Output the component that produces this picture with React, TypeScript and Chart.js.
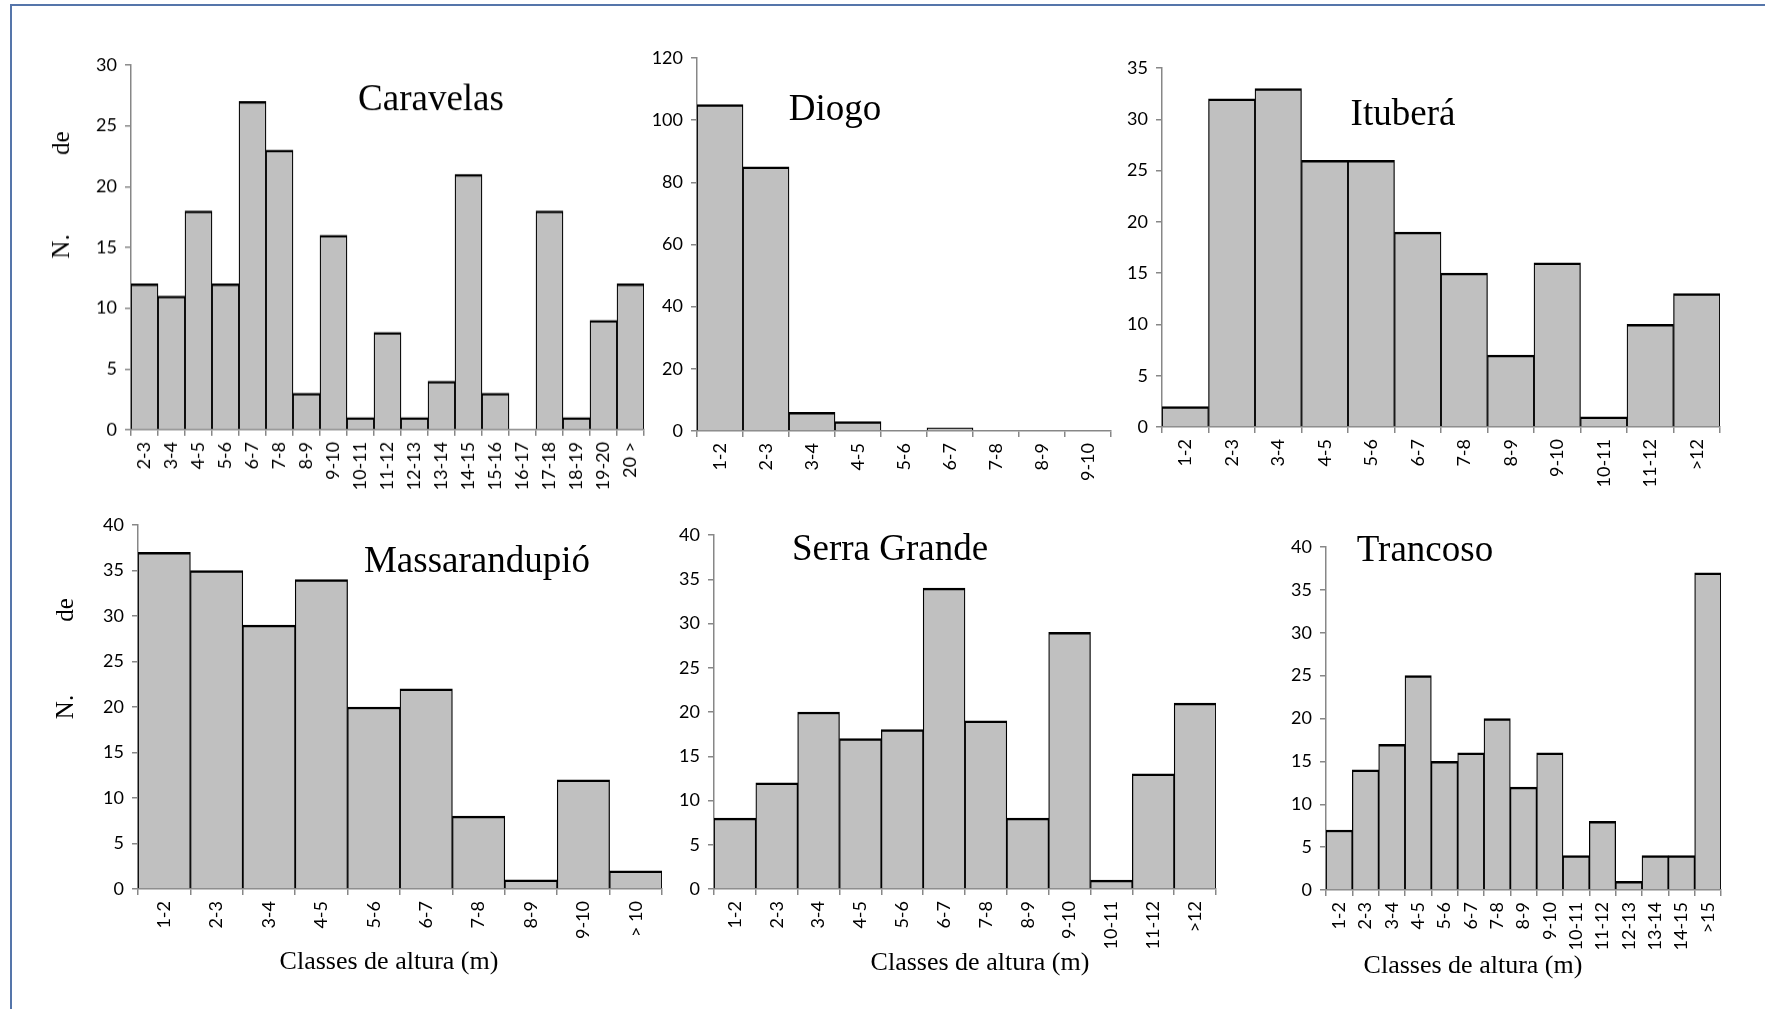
import React, { useEffect, useRef } from 'react';
import { Chart, registerables } from 'chart.js';

Chart.register(...registerables);

// ---------- data ----------
const caravelasCategories = ['2-3', '3-4', '4-5', '5-6', '6-7', '7-8', '8-9', '9-10', '10-11', '11-12', '12-13', '13-14', '14-15', '15-16', '16-17', '17-18', '18-19', '19-20', '20 >'];
const caravelasValues = [12, 11, 18, 12, 27, 23, 3, 16, 1, 8, 1, 4, 21, 3, 0, 18, 1, 9, 12];

const diogoCategories = ['1-2', '2-3', '3-4', '4-5', '5-6', '6-7', '7-8', '8-9', '9-10'];
const diogoValues = [105, 85, 6, 3, 0, 1, 0, 0, 0];

const ituberaCategories = ['1-2', '2-3', '3-4', '4-5', '5-6', '6-7', '7-8', '8-9', '9-10', '10-11', '11-12', '>12'];
const ituberaValues = [2, 32, 33, 26, 26, 19, 15, 7, 16, 1, 10, 13];

const massarandupioCategories = ['1-2', '2-3', '3-4', '4-5', '5-6', '6-7', '7-8', '8-9', '9-10', '> 10'];
const massarandupioValues = [37, 35, 29, 34, 20, 22, 8, 1, 12, 2];

const serraGrandeCategories = ['1-2', '2-3', '3-4', '4-5', '5-6', '6-7', '7-8', '8-9', '9-10', '10-11', '11-12', '>12'];
const serraGrandeValues = [8, 12, 20, 17, 18, 34, 19, 8, 29, 1, 13, 21];

const trancosoCategories = ['1-2', '2-3', '3-4', '4-5', '5-6', '6-7', '7-8', '8-9', '9-10', '10-11', '11-12', '12-13', '13-14', '14-15', '>15'];
const trancosoValues = [7, 14, 17, 25, 15, 16, 20, 12, 16, 4, 8, 1, 4, 4, 37];

const yAxisMax = [30, 120, 35, 40, 40, 40];
const yAxisStep = [5, 20, 5, 5, 5, 5];

const panelTitles = ['Caravelas', 'Diogo', 'Ituberá', 'Massarandupió', 'Serra Grande', 'Trancoso'];
const xAxisTitle = 'Classes de altura (m)';
const yLabelTop = 'de';
const yLabelBottom = 'N.';

// ---------- layout (page pixels) ----------
type Layout = {
  L: number; T: number; R: number; B: number;
  tx: number; ty: number;
  xt?: { x: number; y: number };
  yl?: { x: number; de: number; n: number };
};

const layouts: Layout[] = [
  { L: 131, T: 65, R: 644, B: 429.5, tx: 431, ty: 100, yl: { x: 62, de: 143, n: 246 } },
  { L: 697, T: 58, R: 1111, B: 431, tx: 835, ty: 110 },
  { L: 1162, T: 68, R: 1720, B: 427, tx: 1403, ty: 115 },
  { L: 138, T: 525, R: 662, B: 889, tx: 477, ty: 562, xt: { x: 389, y: 962 }, yl: { x: 66, de: 610, n: 707 } },
  { L: 714, T: 535, R: 1216, B: 889, tx: 890, ty: 550, xt: { x: 980, y: 963 } },
  { L: 1326, T: 547, R: 1721, B: 890, tx: 1425, ty: 551, xt: { x: 1473, y: 966 } },
];

const seriesCategories = [caravelasCategories, diogoCategories, ituberaCategories, massarandupioCategories, serraGrandeCategories, trancosoCategories];
const seriesValues = [caravelasValues, diogoValues, ituberaValues, massarandupioValues, serraGrandeValues, trancosoValues];

const Y_AXIS_W = 95;
const X_AXIS_H = 70;
const PAD_TOP = 25;
const PAD_RIGHT = 20;
const PAD_BOTTOM = 60;

const AXIS_COLOR = '#878787';
const BAR_FILL = '#C0C0C0';
const TICK_FONT = { family: 'Lato', size: 18 };

function Panel({ idx }: { idx: number }) {
  const ref = useRef<HTMLCanvasElement | null>(null);
  const lay = layouts[idx];
  const cx = lay.L - Y_AXIS_W;
  const cy = lay.T - PAD_TOP;
  const cw = lay.R - lay.L + Y_AXIS_W + PAD_RIGHT;
  const ch = lay.B - lay.T + PAD_TOP + X_AXIS_H + PAD_BOTTOM;

  useEffect(() => {
    if (!ref.current) return;
    const annot = {
      id: 'annot' + idx,
      afterDraw(chart: any) {
        const ctx = chart.ctx;
        ctx.save();
        ctx.translate(-cx, -cy);
        ctx.fillStyle = '#000';
        ctx.textAlign = 'center';
        ctx.textBaseline = 'middle';
        ctx.font = '37px "Liberation Serif"';
        ctx.fillText(panelTitles[idx], lay.tx, lay.ty);
        if (lay.xt) {
          ctx.font = '26px "Liberation Serif"';
          ctx.fillText(xAxisTitle, lay.xt.x, lay.xt.y);
        }
        if (lay.yl) {
          ctx.font = '25px "Liberation Serif"';
          ctx.save();
          ctx.translate(lay.yl.x, lay.yl.de);
          ctx.rotate(-Math.PI / 2);
          ctx.fillText(yLabelTop, 0, 0);
          ctx.restore();
          ctx.save();
          ctx.translate(lay.yl.x, lay.yl.n);
          ctx.rotate(-Math.PI / 2);
          ctx.fillText(yLabelBottom, 0, 0);
          ctx.restore();
        }
        ctx.restore();
      },
    };

    const chart = new Chart(ref.current, {
      type: 'bar',
      data: {
        labels: seriesCategories[idx],
        datasets: [
          {
            data: seriesValues[idx],
            backgroundColor: BAR_FILL,
            borderColor: '#000',
            borderWidth: { top: 2.5, left: 1.25, right: 1.25, bottom: 0 },
            borderSkipped: false,
            barPercentage: 1,
            categoryPercentage: 1,
          },
        ],
      },
      options: {
        responsive: false,
        animation: false,
        devicePixelRatio: 1,
        layout: { padding: { left: 0, top: PAD_TOP, right: PAD_RIGHT, bottom: PAD_BOTTOM } },
        plugins: { legend: { display: false }, tooltip: { enabled: false }, title: { display: false } },
        scales: {
          x: {
            type: 'category',
            offset: true,
            afterFit: (s: any) => { s.height = X_AXIS_H; },
            grid: { display: true, offset: true, drawOnChartArea: false, drawTicks: true, tickLength: 6, color: AXIS_COLOR, lineWidth: 1.5 },
            border: { display: true, color: AXIS_COLOR, width: 1.5 },
            ticks: { autoSkip: false, minRotation: 90, maxRotation: 90, padding: 6, color: '#000', font: TICK_FONT },
          },
          y: {
            min: 0,
            max: yAxisMax[idx],
            afterFit: (s: any) => { s.width = Y_AXIS_W; },
            grid: { display: true, drawOnChartArea: false, drawTicks: true, tickLength: 6, color: AXIS_COLOR, lineWidth: 1.5 },
            border: { display: true, color: AXIS_COLOR, width: 1.5 },
            ticks: { stepSize: yAxisStep[idx], padding: 8, color: '#000', font: TICK_FONT },
          },
        },
      },
      plugins: [annot],
    });
    if ((document as any).fonts && (document as any).fonts.ready) {
      (document as any).fonts.ready.then(() => { try { chart.update(); } catch (e) {} });
    }
    return () => { chart.destroy(); };
  }, [idx]);

  return (
    <canvas
      ref={ref}
      width={cw}
      height={ch}
      style={{ position: 'absolute', left: cx, top: cy, width: cw, height: ch }}
    />
  );
}

export default function App() {
  return (
    <div style={{ position: 'absolute', left: 0, top: 0, width: 1765, height: 1009, background: '#fff', overflow: 'hidden' }}>
      <div
        style={{
          position: 'absolute', left: 10, top: 4, width: 2000, height: 2000,
          borderTop: '2px solid #5575AA', borderLeft: '2px solid #5575AA',
        }}
      />
      {layouts.map((_, i) => (
        <Panel key={i} idx={i} />
      ))}
    </div>
  );
}
